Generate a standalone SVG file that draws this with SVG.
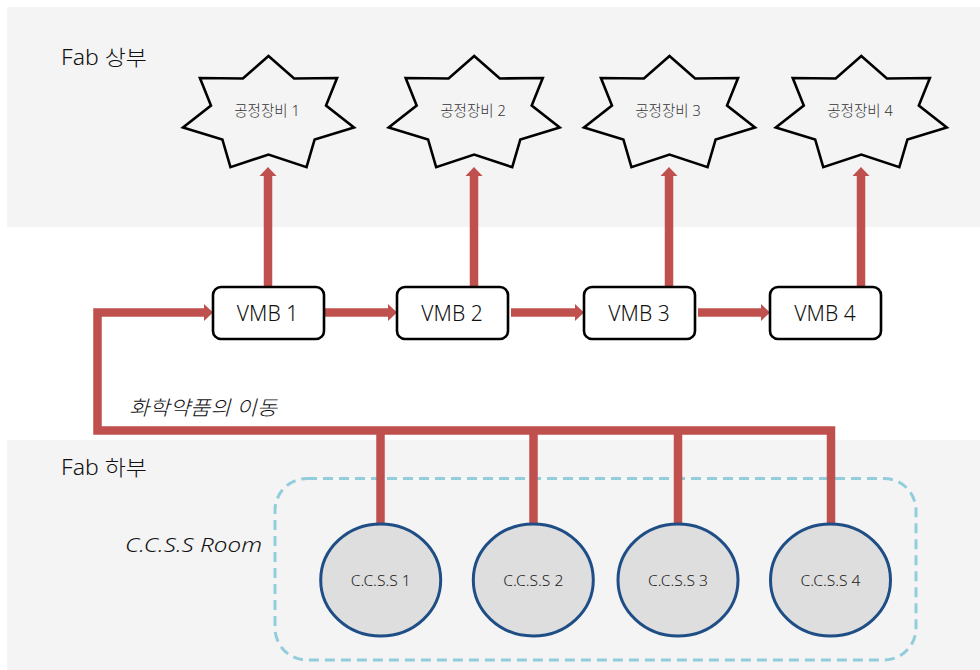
<svg xmlns="http://www.w3.org/2000/svg" xmlns:xlink="http://www.w3.org/1999/xlink" width="980" height="670" viewBox="0 0 980 670">
<style>
.panel{fill:#F4F4F4}
.star{fill:#F4F4F4;stroke:#000;stroke-width:2.6;stroke-linejoin:miter}
.vmb{fill:#fff;stroke:#000;stroke-width:2.6}
.ccss{fill:#DEDEDE;stroke:#1F4E86;stroke-width:3}
.flow{fill:none;stroke:#C0504D;stroke-width:8.5;stroke-linejoin:miter}
.t{font-family:"Noto Sans","Noto Sans CJK KR",sans-serif;font-weight:300}
.zone{font-size:21px;fill:#111}
.stl{font-size:14.5px;fill:#333;text-anchor:middle}
.vl{font-size:21px;fill:#111;text-anchor:middle}
.cl{font-size:15px;fill:#222;text-anchor:middle}
.it{font-size:20px;font-style:italic;fill:#111}
</style>
<defs>
<polygon id="star" points="0,-58.5 25.6,-36.04 68.56,-36.47 57.52,-8.9 85.5,13.02 46.13,24.94 38.05,52.71 0,40 -38.05,52.71 -46.13,24.94 -85.5,13.02 -57.52,-8.9 -68.56,-36.47 -25.6,-36.04"/>
<marker id="ah" markerWidth="9" markerHeight="17" refX="0" refY="8.5" orient="auto" markerUnits="userSpaceOnUse" overflow="visible">
<path d="M0,0 L9,8.5 L0,17 Z" fill="#C0504D"/>
</marker>
</defs>
<rect class="panel" x="7" y="7" width="973" height="220"/>
<rect class="panel" x="7" y="440" width="973" height="230"/>
<text class="t zone" x="61" y="64.5" textLength="86" lengthAdjust="spacingAndGlyphs">Fab 상부</text>
<text class="t zone" x="61" y="474.5" textLength="86" lengthAdjust="spacingAndGlyphs">Fab 하부</text>
<text class="t it" x="129" y="414.5" textLength="148" lengthAdjust="spacingAndGlyphs">화학약품의 이동</text>
<text class="t it" x="125" y="552" textLength="137" lengthAdjust="spacingAndGlyphs">C.C.S.S Room</text>
<rect x="275" y="478.5" width="641" height="181.5" rx="32" fill="none" stroke="#92CDDC" stroke-width="3" stroke-dasharray="10 6"/>
<g id="connectors">
<path class="flow" d="M831,525 V430.5 H97.5 V312.5 H204" marker-end="url(#ah)"/>
<path class="flow" d="M380.5,430.5 V525"/>
<path class="flow" d="M533.5,430.5 V525"/>
<path class="flow" d="M678,430.5 V525"/>
<path class="flow" d="M325,312.5 H388" marker-end="url(#ah)"/>
<path class="flow" d="M511,312.5 H575" marker-end="url(#ah)"/>
<path class="flow" d="M698,312.5 H761" marker-end="url(#ah)"/>
<path class="flow" d="M268,287 V176" marker-end="url(#ah)"/>
<path class="flow" d="M474,287 V176" marker-end="url(#ah)"/>
<path class="flow" d="M669,287 V176" marker-end="url(#ah)"/>
<path class="flow" d="M861,287 V176" marker-end="url(#ah)"/>
</g>
<g id="equip1"><use href="#star" class="star" x="268.5" y="114.5"/><text class="t stl" x="267" y="115.5">공정장비 1</text></g>
<g id="equip2"><use href="#star" class="star" x="474.2" y="114.5"/><text class="t stl" x="473" y="115.5">공정장비 2</text></g>
<g id="equip3"><use href="#star" class="star" x="669.5" y="114.5"/><text class="t stl" x="668" y="115.5">공정장비 3</text></g>
<g id="equip4"><use href="#star" class="star" x="861.3" y="114.5"/><text class="t stl" x="860" y="115.5">공정장비 4</text></g>
<g id="vmb1"><rect class="vmb" x="213" y="287" width="111" height="52" rx="8"/><text class="t vl" x="267.5" y="320.5">VMB 1</text></g>
<g id="vmb2"><rect class="vmb" x="397" y="287" width="111" height="52" rx="8"/><text class="t vl" x="452" y="320.5">VMB 2</text></g>
<g id="vmb3"><rect class="vmb" x="584" y="287" width="111" height="52" rx="8"/><text class="t vl" x="639" y="320.5">VMB 3</text></g>
<g id="vmb4"><rect class="vmb" x="770" y="287" width="111" height="52" rx="8"/><text class="t vl" x="825" y="320.5">VMB 4</text></g>
<g id="ccss1"><ellipse class="ccss" cx="380.7" cy="580" rx="60" ry="56"/><text class="t cl" x="380.7" y="586" textLength="60" lengthAdjust="spacingAndGlyphs">C.C.S.S 1</text></g>
<g id="ccss2"><ellipse class="ccss" cx="533.3" cy="580" rx="60" ry="56"/><text class="t cl" x="533.3" y="586" textLength="60" lengthAdjust="spacingAndGlyphs">C.C.S.S 2</text></g>
<g id="ccss3"><ellipse class="ccss" cx="678" cy="580" rx="60" ry="56"/><text class="t cl" x="678" y="586" textLength="60" lengthAdjust="spacingAndGlyphs">C.C.S.S 3</text></g>
<g id="ccss4"><ellipse class="ccss" cx="830.5" cy="580" rx="60" ry="56"/><text class="t cl" x="830.5" y="586" textLength="60" lengthAdjust="spacingAndGlyphs">C.C.S.S 4</text></g>
</svg>
